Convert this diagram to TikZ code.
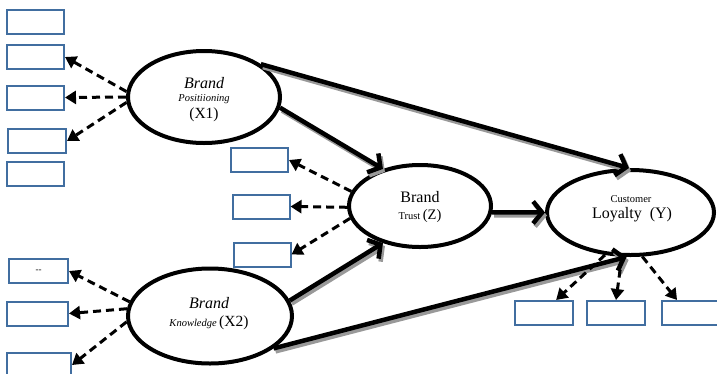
\documentclass[tikz,border=0pt]{standalone}
\usepackage{fontspec}
\setmainfont{Liberation Serif}
\usetikzlibrary{shapes.geometric,arrows.meta}
\definecolor{boxblue}{RGB}{65,110,160}
\tikzset{
  ind/.style={draw=boxblue, line width=2pt, minimum width=57pt, minimum height=24pt, inner sep=0pt, fill=white},
  lat/.style={draw, ellipse, line width=4pt, inner sep=0pt, fill=white},
  solidarr/.style={line width=4.5pt, -{Straight Barb[length=9pt,width=22pt]}},
  shadowarr/.style={solidarr, draw=black!40, transform canvas={shift={(2pt,-3pt)}}},
  loadarr/.style={line width=3pt, dash pattern=on 8pt off 5pt, -{Triangle[length=11pt,width=13pt]}},
  txt/.style={inner sep=0pt}
}
\newcommand\solidlink[2]{\draw[shadowarr] #1 -- #2; \draw[solidarr] #1 -- #2;}
\begin{document}
\begin{tikzpicture}[x=1pt,y=-1pt]
\useasboundingbox (0,0) rectangle (717,373);
\clip (0,0) rectangle (717,373);
% indicator boxes
\node[ind] (b1) at (35.5,22) {};
\node[ind] (b2) at (35.5,57) {};
\node[ind] (b3) at (35.5,97.5) {};
\node[ind, minimum width=58pt] (b4) at (37,141) {};
\node[ind] (b5) at (35.5,174) {};
\node[ind] (t1) at (259.5,160) {};
\node[ind] (t2) at (261,206.5) {};
\node[ind] (t3) at (262,254.5) {};
\node[ind, minimum width=59pt] (k1) at (38.5,271) {\fontsize{9}{10}\selectfont -{}-};
\node[ind, minimum width=61pt] (k2) at (37.5,313.5) {};
\node[ind, minimum width=64pt] (k3) at (39,365) {};
\node[ind, minimum width=58pt] (c1) at (544,313) {};
\node[ind, minimum width=58pt] (c2) at (616,313) {};
\node[ind, minimum width=58pt] (c3) at (691,313) {};
% latent variables
\node[lat, minimum width=152pt, minimum height=92pt] (x1) at (204,97) {};
\node[lat, minimum width=142pt, minimum height=82pt] (z) at (420,206) {};
\node[lat, minimum width=167pt, minimum height=85pt] (y) at (630.5,212.5) {};
\node[lat, minimum width=164pt, minimum height=95pt] (x2) at (210,316) {};
% texts
\node[txt] (x1a) at (204,83) {\fontsize{16}{18}\selectfont\itshape Brand};
\node[txt] (x1b) at (204,99) {\fontsize{10.5}{12}\selectfont\itshape Positiioning};
\node[txt] (x1c) at (204,115) {\fontsize{15.5}{17}\selectfont (X1)};
\node[txt] (za) at (420,197) {\fontsize{16}{18}\selectfont Brand};
\node[txt] (zb) at (420,216) {{\fontsize{10.5}{12}\selectfont Trust} {\fontsize{14.5}{16}\selectfont (Z)}};
\node[txt] (ya) at (631,199) {\fontsize{10.5}{12}\selectfont Customer};
\node[txt] (yb) at (632,215) {\fontsize{16}{18}\selectfont Loyalty\ \ (Y)};
\node[txt] (x2a) at (209,303) {\fontsize{16}{18}\selectfont\itshape Brand};
\node[txt] (x2b) at (209,323) {{\fontsize{10.5}{12}\selectfont\itshape Knowledge} {\fontsize{15.5}{17}\selectfont (X2)}};
% structural paths
\solidlink{(x1.30)}{(y.92)}
\solidlink{(x1.-8)}{(z.135)}
\solidlink{(z.-5)}{(y.west)}
\solidlink{(x2.11)}{(z.225)}
\solidlink{(x2.-27)}{(y.265)}
% loadings
\draw[loadarr] (x1.176) -- (b2.east);
\draw[loadarr] (x1.180) -- (b3.east);
\draw[loadarr] (x1.184) -- (b4.east);
\draw[loadarr] (z.168) -- (t1.east);
\draw[loadarr] (z.181) -- (t2.east);
\draw[loadarr] (z.190) -- (t3.east);
\draw[loadarr] (x2.170) -- (k1.east);
\draw[loadarr] (x2.175) -- (k2.east);
\draw[loadarr] (x2.184) -- (k3.east);
\draw[loadarr] (y.239) -- (c1.47);
\draw[loadarr] (y.259) -- (c2.north);
\draw[loadarr] (y.285) -- (c3.137);
\end{tikzpicture}
\end{document}
